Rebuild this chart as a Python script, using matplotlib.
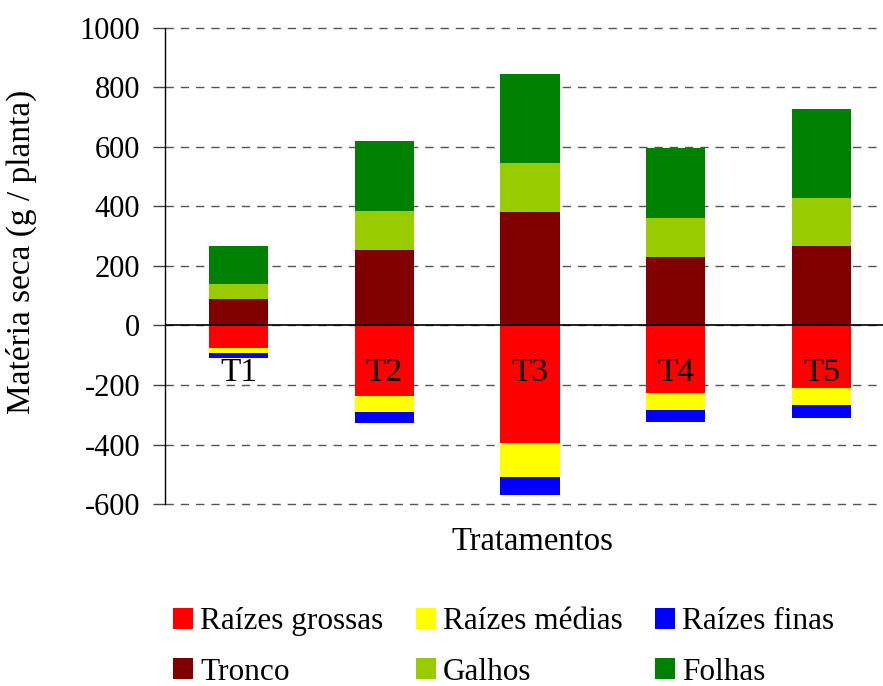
import numpy as np
import matplotlib
matplotlib.use("Agg")
import matplotlib.pyplot as plt
from matplotlib.patches import Patch

plt.rcParams["font.family"] = ["Liberation Serif", "DejaVu Serif"]
plt.rcParams["axes.unicode_minus"] = False

# treatments and dry matter per plant component (g / planta)
tratamentos = ["T1", "T2", "T3", "T4", "T5"]
tronco = [88, 253, 380, 229, 266]
galhos = [50, 131, 165, 131, 162]
folhas = [128, 236, 300, 236, 299]
raizes_grossas = [77, 238, 394, 226, 209]
raizes_medias = [14, 52, 114, 57, 57]
raizes_finas = [19, 39, 61, 40, 44]

cores = {
    "Raízes grossas": "#FF0000",
    "Raízes médias": "#FFFF00",
    "Raízes finas": "#0000FF",
    "Tronco": "#800000",
    "Galhos": "#99CC00",
    "Folhas": "#008000",
}

fig = plt.figure(figsize=(8.83, 6.86), dpi=100)
ax = fig.add_axes([0.1869, 0.2653, 0.8131, 0.6939])

x = np.arange(len(tratamentos))
w = 0.405

# above ground: stacked upward
base = np.zeros(len(x))
for nome, vals in [("Tronco", tronco), ("Galhos", galhos), ("Folhas", folhas)]:
    ax.bar(x, vals, w, bottom=base, color=cores[nome], zorder=2)
    base = base + np.array(vals)

# roots: stacked downward
base = np.zeros(len(x))
for nome, vals in [("Raízes grossas", raizes_grossas), ("Raízes médias", raizes_medias),
                   ("Raízes finas", raizes_finas)]:
    v = -np.array(vals)
    ax.bar(x, v, w, bottom=base, color=cores[nome], zorder=2)
    base = base + v

for xi, t in zip(x, tratamentos):
    ax.text(xi, -160, t, ha="center", va="center", fontsize=24, zorder=3)

ax.set_xlim(-0.504, 4.422)
ax.set_ylim(-600, 1000)
ax.set_yticks(np.arange(-600, 1001, 200))
ax.set_xticks([])
ax.tick_params(axis="y", labelsize=22, length=9, width=1, color="#444444", pad=9)
ax.yaxis.grid(True, linestyle=(0, (6, 5)), color="#555555", linewidth=1, zorder=0)
for gl in ax.get_ygridlines():
    gl.set_clip_on(False)
ax.axhline(0, color="black", linewidth=1.2, zorder=4)

for s in ["top", "right", "bottom"]:
    ax.spines[s].set_visible(False)
ax.spines["left"].set_color("black")
ax.spines["left"].set_linewidth(1)

ax.set_ylabel("Matéria seca (g / planta)", fontsize=24)
ax.yaxis.set_label_coords(-0.178, 0.53)
fig.text(532 / 883, 1 - 542 / 686, "Tratamentos", ha="center", va="center", fontsize=23.5)

# legend fills column by column, so order it to read row by row
ordem = ["Raízes grossas", "Tronco", "Raízes médias", "Galhos", "Raízes finas", "Folhas"]
handles = [Patch(facecolor=cores[n], edgecolor="none", label=n) for n in ordem]
fig.legend(handles=handles, ncol=3, loc="center left", bbox_to_anchor=(0.196, 0.057),
           frameon=False, fontsize=22.5, handlelength=0.64, handleheight=0.64,
           handletextpad=0.22, columnspacing=1.05, labelspacing=0.68,
           borderaxespad=0, borderpad=0)

fig.savefig("out.png", dpi=100)
